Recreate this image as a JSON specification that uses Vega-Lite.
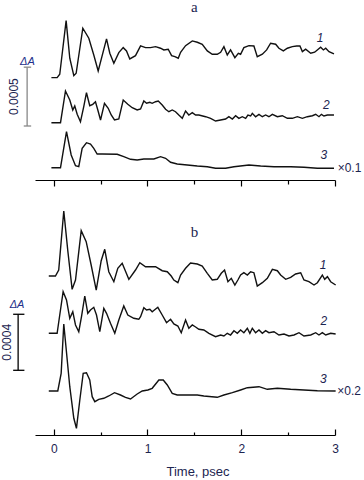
{
  "$schema": "https://vega.github.io/schema/vega-lite/v6.json",
  "padding": {"left": 0, "top": 0, "right": 0, "bottom": 0},
  "config": {"view": {"stroke": null}, "font": "Liberation Sans"},
  "spacing": 10,
  "bounds": "flush",
  "datasets": {
    "a1": [{"t":-0.025,"dA":0},{"t":0.036,"dA":0},{"t":0.064,"dA":0.0000289},{"t":0.132,"dA":0.0004845},{"t":0.171,"dA":0.0001649},{"t":0.214,"dA":0.000017},{"t":0.239,"dA":0.0000374},{"t":0.310,"dA":0.0004199},{"t":0.374,"dA":0.0003349},{"t":0.427,"dA":0.000193},{"t":0.474,"dA":0.000057},{"t":0.563,"dA":0.000329},{"t":0.598,"dA":0.0002074},{"t":0.641,"dA":0.0001224},{"t":0.694,"dA":0.0002125},{"t":0.741,"dA":0.000255},{"t":0.776,"dA":0.000227},{"t":0.811,"dA":0.000159},{"t":0.872,"dA":0.000187},{"t":0.926,"dA":0.0002695},{"t":0.979,"dA":0.000255},{"t":1.032,"dA":0.000255},{"t":1.086,"dA":0.0002635},{"t":1.139,"dA":0.00025},{"t":1.174,"dA":0.0002355},{"t":1.221,"dA":0.0002414},{"t":1.257,"dA":0.000187},{"t":1.292,"dA":0.0001785},{"t":1.328,"dA":0.000165},{"t":1.353,"dA":0.000216},{"t":1.406,"dA":0.000272},{"t":1.478,"dA":0.000312},{"t":1.531,"dA":0.000301},{"t":1.584,"dA":0.000284},{"t":1.638,"dA":0.000227},{"t":1.691,"dA":0.000199},{"t":1.744,"dA":0.000199},{"t":1.780,"dA":0.000216},{"t":1.815,"dA":0.0002635},{"t":1.851,"dA":0.000193},{"t":1.886,"dA":0.0002355},{"t":1.932,"dA":0.00017},{"t":1.969,"dA":0.0002074},{"t":1.993,"dA":0.000199},{"t":2.028,"dA":0.000255},{"t":2.082,"dA":0.000272},{"t":2.135,"dA":0.0002695},{"t":2.171,"dA":0.0001785},{"t":2.225,"dA":0.000199},{"t":2.271,"dA":0.0002355},{"t":2.313,"dA":0.0002924},{"t":2.367,"dA":0.000284},{"t":2.402,"dA":0.00025},{"t":2.449,"dA":0.000227},{"t":2.492,"dA":0.00025},{"t":2.545,"dA":0.0002635},{"t":2.591,"dA":0.0002695},{"t":2.626,"dA":0.0002695},{"t":2.652,"dA":0.000221},{"t":2.687,"dA":0.0002414},{"t":2.741,"dA":0.0002074},{"t":2.783,"dA":0.000216},{"t":2.847,"dA":0.0002584},{"t":2.876,"dA":0.0002355},{"t":2.901,"dA":0.00025},{"t":2.936,"dA":0.000221},{"t":2.989,"dA":0.0002015}],
    "a2": [{"t":-0.025,"dA":0},{"t":0.072,"dA":0},{"t":0.125,"dA":0.0002695},{"t":0.171,"dA":0.000193},{"t":0.203,"dA":0.000108},{"t":0.224,"dA":0.000142},{"t":0.250,"dA":0.0000714},{"t":0.285,"dA":0.0000085},{"t":0.320,"dA":0.000136},{"t":0.349,"dA":0.000255},{"t":0.384,"dA":0.0001445},{"t":0.416,"dA":0.0001564},{"t":0.445,"dA":0.0001785},{"t":0.470,"dA":0.000108},{"t":0.499,"dA":0.000023},{"t":0.541,"dA":0.000165},{"t":0.581,"dA":0.0001224},{"t":0.613,"dA":0.0000655},{"t":0.648,"dA":0.000023},{"t":0.694,"dA":0.0000315},{"t":0.741,"dA":0.000193},{"t":0.790,"dA":0.0001564},{"t":0.837,"dA":0.0001275},{"t":0.890,"dA":0.000108},{"t":0.926,"dA":0.0001165},{"t":0.961,"dA":0.0001845},{"t":0.990,"dA":0.000165},{"t":1.025,"dA":0.0001734},{"t":1.050,"dA":0.000165},{"t":1.086,"dA":0.0001785},{"t":1.115,"dA":0.0001845},{"t":1.157,"dA":0.0001505},{"t":1.193,"dA":0.000114},{"t":1.228,"dA":0.0000935},{"t":1.264,"dA":0.000108},{"t":1.299,"dA":0.0000935},{"t":1.334,"dA":0.0000655},{"t":1.371,"dA":0.0000374},{"t":1.406,"dA":0.0000995},{"t":1.441,"dA":0.0000655},{"t":1.478,"dA":0.000085},{"t":1.513,"dA":0.0000655},{"t":1.548,"dA":0.0000655},{"t":1.620,"dA":0.000051},{"t":1.673,"dA":0.0000374},{"t":1.726,"dA":0.0000145},{"t":1.780,"dA":0.000023},{"t":1.833,"dA":0.0000315},{"t":1.868,"dA":0.000051},{"t":1.905,"dA":0.0000315},{"t":1.940,"dA":0.0000595},{"t":1.975,"dA":0.0000374},{"t":2.011,"dA":0.000051},{"t":2.047,"dA":0.0000374},{"t":2.071,"dA":0.0000655},{"t":2.100,"dA":0.000057},{"t":2.118,"dA":0.00008},{"t":2.153,"dA":0.000051},{"t":2.189,"dA":0.0000714},{"t":2.225,"dA":0.000051},{"t":2.260,"dA":0.0000655},{"t":2.295,"dA":0.000051},{"t":2.332,"dA":0.0000714},{"t":2.385,"dA":0.000051},{"t":2.438,"dA":0.0000595},{"t":2.492,"dA":0.0000374},{"t":2.545,"dA":0.0000374},{"t":2.599,"dA":0.000051},{"t":2.652,"dA":0.0000374},{"t":2.705,"dA":0.000051},{"t":2.759,"dA":0.0000595},{"t":2.794,"dA":0.0000714},{"t":2.829,"dA":0.000051},{"t":2.855,"dA":0.0000714},{"t":2.882,"dA":0.000057},{"t":2.919,"dA":0.0000655},{"t":2.989,"dA":0.0000655}],
    "a3": [{"t":-0.025,"dA":0},{"t":0.072,"dA":0},{"t":0.136,"dA":0.00306},{"t":0.186,"dA":0.00108},{"t":0.232,"dA":0.00017},{"t":0.267,"dA":0.000085},{"t":0.303,"dA":0.001649},{"t":0.349,"dA":0.002125},{"t":0.392,"dA":0.0020145},{"t":0.427,"dA":0.001649},{"t":0.463,"dA":0.0011645},{"t":0.517,"dA":0.0011645},{"t":0.677,"dA":0.001139},{"t":0.747,"dA":0.000935},{"t":0.819,"dA":0.000714},{"t":0.890,"dA":0.0006545},{"t":0.961,"dA":0.0007395},{"t":1.068,"dA":0.0007395},{"t":1.139,"dA":0.000935},{"t":1.193,"dA":0.000799},{"t":1.246,"dA":0.000459},{"t":1.317,"dA":0.0003145},{"t":1.424,"dA":0.0002295},{"t":1.531,"dA":0.0001445},{"t":1.638,"dA":0.000085},{"t":1.726,"dA":-0.000051},{"t":1.833,"dA":-0.000051},{"t":1.922,"dA":0.000085},{"t":2.082,"dA":0.0002295},{"t":2.207,"dA":0.0001445},{"t":2.349,"dA":0.000085},{"t":2.527,"dA":0.000085},{"t":2.669,"dA":0.000034},{"t":2.812,"dA":-0.000051},{"t":2.989,"dA":-0.000051}],
    "b1": [{"t":-0.053,"dA":0},{"t":0.018,"dA":0},{"t":0.053,"dA":0.0000428},{"t":0.107,"dA":0.0004641},{"t":0.149,"dA":0.0001856},{"t":0.196,"dA":-0.000095},{"t":0.232,"dA":-0.0000286},{"t":0.293,"dA":0.0003234},{"t":0.346,"dA":0.0002449},{"t":0.399,"dA":0.0000785},{"t":0.453,"dA":-0.0001},{"t":0.506,"dA":0.0001092},{"t":0.544,"dA":0.0001906},{"t":0.587,"dA":0.0000307},{"t":0.641,"dA":-0.0000407},{"t":0.683,"dA":0.000055},{"t":0.730,"dA":0.0000907},{"t":0.801,"dA":-0.0000236},{"t":0.872,"dA":0.0000428},{"t":0.918,"dA":0.000095},{"t":0.979,"dA":0.0000664},{"t":1.086,"dA":0.0000664},{"t":1.157,"dA":0.0000378},{"t":1.211,"dA":0.0000307},{"t":1.253,"dA":0},{"t":1.281,"dA":-0.0000286},{"t":1.324,"dA":-0.0000478},{"t":1.353,"dA":0.0000071},{"t":1.406,"dA":0.000055},{"t":1.459,"dA":0.0000928},{"t":1.531,"dA":0.0000857},{"t":1.584,"dA":0.0000714},{"t":1.638,"dA":0.0000193},{"t":1.691,"dA":-0.0000286},{"t":1.744,"dA":-0.0000236},{"t":1.787,"dA":0.0000193},{"t":1.822,"dA":0.0000428},{"t":1.858,"dA":-0.0000407},{"t":1.894,"dA":-0.0000164},{"t":1.932,"dA":-0.0000643},{"t":1.964,"dA":-0.0000286},{"t":1.993,"dA":0.0000071},{"t":2.028,"dA":0.0000236},{"t":2.065,"dA":0.0000071},{"t":2.100,"dA":0.0000307},{"t":2.135,"dA":0.0000236},{"t":2.171,"dA":-0.0000714},{"t":2.225,"dA":-0.0000478},{"t":2.278,"dA":-0.0000164},{"t":2.332,"dA":0.0000478},{"t":2.385,"dA":0.0000378},{"t":2.420,"dA":0.0000071},{"t":2.474,"dA":-0.0000236},{"t":2.527,"dA":-0.0000093},{"t":2.580,"dA":0.0000143},{"t":2.634,"dA":0.0000236},{"t":2.669,"dA":-0.0000286},{"t":2.722,"dA":-0.0000407},{"t":2.776,"dA":-0.0000643},{"t":2.812,"dA":-0.0000478},{"t":2.865,"dA":0.0000071},{"t":2.890,"dA":-0.0000236},{"t":2.919,"dA":-0.000005},{"t":2.954,"dA":-0.0000407},{"t":3.007,"dA":-0.0000643}],
    "b2": [{"t":-0.053,"dA":0},{"t":0.036,"dA":0},{"t":0.064,"dA":0.0001307},{"t":0.100,"dA":0.000297},{"t":0.136,"dA":0.0002378},{"t":0.171,"dA":0.0001071},{"t":0.203,"dA":0.0001542},{"t":0.232,"dA":0.0000593},{"t":0.267,"dA":0.0000114},{"t":0.296,"dA":0.0001185},{"t":0.331,"dA":0.0002663},{"t":0.363,"dA":0.0001428},{"t":0.392,"dA":0.0001664},{"t":0.427,"dA":0.0001856},{"t":0.456,"dA":0.0001307},{"t":0.491,"dA":0.0000114},{"t":0.534,"dA":0.0001785},{"t":0.563,"dA":0.0001428},{"t":0.605,"dA":0.0000714},{"t":0.651,"dA":0},{"t":0.694,"dA":0.000095},{"t":0.747,"dA":0.0001949},{"t":0.790,"dA":0.0001307},{"t":0.854,"dA":0.0001071},{"t":0.907,"dA":0.0001},{"t":0.926,"dA":0.0001185},{"t":0.961,"dA":0.0001828},{"t":0.990,"dA":0.0001664},{"t":1.025,"dA":0.0001714},{"t":1.050,"dA":0.0001542},{"t":1.110,"dA":0.0001856},{"t":1.157,"dA":0.0001307},{"t":1.203,"dA":0.0000757},{"t":1.246,"dA":0.0001},{"t":1.281,"dA":0.0000664},{"t":1.324,"dA":0.0000521},{"t":1.360,"dA":0.0000043},{"t":1.406,"dA":0.000095},{"t":1.441,"dA":0.0000357},{"t":1.478,"dA":0.0000593},{"t":1.513,"dA":0.000045},{"t":1.548,"dA":0.0000286},{"t":1.601,"dA":0.0000236},{"t":1.655,"dA":0},{"t":1.726,"dA":-0.0000243},{"t":1.780,"dA":-0.0000121},{"t":1.815,"dA":-0.0000193},{"t":1.851,"dA":0},{"t":1.886,"dA":-0.0000121},{"t":1.922,"dA":0.0000186},{"t":1.958,"dA":0},{"t":1.993,"dA":0.0000236},{"t":2.028,"dA":0.0000043},{"t":2.065,"dA":0.0000357},{"t":2.092,"dA":0},{"t":2.118,"dA":0.0000357},{"t":2.153,"dA":0.0000043},{"t":2.189,"dA":0.0000236},{"t":2.225,"dA":0},{"t":2.260,"dA":0.0000186},{"t":2.295,"dA":0.0000043},{"t":2.349,"dA":0.0000114},{"t":2.402,"dA":-0.0000121},{"t":2.456,"dA":-0.000005},{"t":2.509,"dA":-0.0000193},{"t":2.563,"dA":-0.0000121},{"t":2.616,"dA":0.0000043},{"t":2.669,"dA":-0.0000193},{"t":2.741,"dA":-0.0000121},{"t":2.794,"dA":0.0000043},{"t":2.829,"dA":-0.0000121},{"t":2.865,"dA":0.0000043},{"t":2.901,"dA":-0.0000121},{"t":2.954,"dA":0},{"t":3.007,"dA":-0.000005}],
    "b3": [{"t":-0.053,"dA":0},{"t":0.043,"dA":0},{"t":0.079,"dA":0.0006319},{"t":0.107,"dA":0.00239},{"t":0.171,"dA":0.0001535},{"t":0.214,"dA":-0.0009746},{"t":0.242,"dA":-0.0013316},{"t":0.278,"dA":-0.0003213},{"t":0.314,"dA":0.0006319},{"t":0.349,"dA":0.0006533},{"t":0.384,"dA":0.0003927},{"t":0.410,"dA":-0.0002035},{"t":0.438,"dA":-0.000382},{"t":0.480,"dA":-0.0002963},{"t":0.534,"dA":-0.0002606},{"t":0.587,"dA":-0.0001785},{"t":0.648,"dA":-0.0000607},{"t":0.712,"dA":-0.0001428},{"t":0.765,"dA":-0.0002249},{"t":0.819,"dA":-0.0002856},{"t":0.890,"dA":-0.0001071},{"t":0.944,"dA":0},{"t":1.004,"dA":0.0000357},{"t":1.050,"dA":0.0000964},{"t":1.121,"dA":0.0003927},{"t":1.168,"dA":0.0003927},{"t":1.211,"dA":0.0002142},{"t":1.264,"dA":-0.0000821},{"t":1.317,"dA":-0.0001428},{"t":1.424,"dA":-0.0001428},{"t":1.531,"dA":-0.0001428},{"t":1.601,"dA":-0.0001785},{"t":1.744,"dA":-0.0002249},{"t":1.815,"dA":-0.0001428},{"t":1.905,"dA":-0.0000607},{"t":1.993,"dA":0.0000357},{"t":2.065,"dA":0.0001178},{"t":2.189,"dA":0.0001535},{"t":2.278,"dA":0.0000607},{"t":2.385,"dA":0.0000964},{"t":2.527,"dA":0.0000607},{"t":2.669,"dA":0.0000357},{"t":2.812,"dA":0.0000107},{"t":3.007,"dA":0}]
  },
  "vconcat": [
    {
      "width": 300,
      "height": 180,
      "encoding": {
        "x": {
          "field": "t", "type": "quantitative",
          "scale": {"domain": [-0.2, 3], "nice": false, "zero": false},
          "axis": {
            "values": [0, 0.5, 1, 1.5, 2, 2.5, 3],
            "labels": false, "title": null, "grid": false,
            "domainColor": "#000", "domainWidth": 1.2,
            "tickColor": "#000", "tickWidth": 1.2,
            "tickSize": {"condition": {"test": "datum.value % 1 === 0", "value": 6}, "value": 4}
          }
        }
      },
      "layer": [
        {
          "layer": [
            {"data": {"name": "a1"}, "mark": {"type": "line", "stroke": "#111", "strokeWidth": 1.4}},
            {"data": {"values": [{"t": 2.84, "dA": 0.00034, "label": "1"}]},
             "mark": {"type": "text", "font": "Liberation Sans", "fontSize": 12, "fontStyle": "italic", "fill": "#1c2450", "align": "center", "baseline": "middle"},
             "encoding": {"text": {"field": "label"}}}
          ],
          "encoding": {"y": {"field": "dA", "type": "quantitative", "scale": {"domain": [-0.00087, 0.00066], "nice": false, "zero": false}, "axis": null}}
        },
        {
          "layer": [
            {"data": {"name": "a2"}, "mark": {"type": "line", "stroke": "#111", "strokeWidth": 1.4}},
            {"data": {"values": [{"t": 2.908, "dA": 0.00015, "label": "2"}]},
             "mark": {"type": "text", "font": "Liberation Sans", "fontSize": 12, "fontStyle": "italic", "fill": "#1c2450", "align": "center", "baseline": "middle"},
             "encoding": {"text": {"field": "label"}}}
          ],
          "encoding": {"y": {"field": "dA", "type": "quantitative", "scale": {"domain": [-0.000487, 0.001043], "nice": false, "zero": false}, "axis": null}}
        },
        {
          "layer": [
            {"data": {"name": "a3"}, "mark": {"type": "line", "stroke": "#111", "strokeWidth": 1.4}},
            {"data": {"values": [{"t": 2.882, "dA": 0.00108, "label": "3"}]},
             "mark": {"type": "text", "font": "Liberation Sans", "fontSize": 12, "fontStyle": "italic", "fill": "#1c2450", "align": "center", "baseline": "middle"},
             "encoding": {"text": {"field": "label"}}},
            {"data": {"values": [{"t": 3.028, "dA": 0, "label": "×0.1"}]},
             "mark": {"type": "text", "font": "Liberation Sans", "fontSize": 12, "fill": "#1c2450", "align": "left", "baseline": "middle"},
             "encoding": {"text": {"field": "label"}}}
          ],
          "encoding": {"y": {"field": "dA", "type": "quantitative", "scale": {"domain": [-0.0010455, 0.0142545], "nice": false, "zero": false}, "axis": null}}
        },
        {
          "layer": [
            {"data": {"values": [{"t": -0.284, "dA": 0, "dA2": 0.0005}]},
             "mark": {"type": "rule", "stroke": "#888", "strokeWidth": 1.3},
             "encoding": {"y2": {"field": "dA2"}}},
            {"data": {"values": [{"t": -0.32, "t2": -0.241, "dA": 0}, {"t": -0.32, "t2": -0.241, "dA": 0.0005}]},
             "mark": {"type": "rule", "stroke": "#888", "strokeWidth": 1.3},
             "encoding": {"x2": {"field": "t2"}}},
            {"data": {"values": [{"t": -0.281, "dA": 0.000544, "label": "ΔA"}]},
             "mark": {"type": "text", "font": "Liberation Sans", "fontSize": 11, "fontStyle": "italic", "fill": "#24308a", "align": "center", "baseline": "middle"},
             "encoding": {"text": {"field": "label"}}},
            {"data": {"values": [{"t": -0.427, "dA": 0.00025, "label": "0.0005"}]},
             "mark": {"type": "text", "font": "Liberation Sans", "fontSize": 12, "angle": 270, "fill": "#1c2450", "align": "center", "baseline": "middle"},
             "encoding": {"text": {"field": "label"}}},
            {"data": {"values": [{"t": 1.5, "dA": 0.00107, "label": "a"}]},
             "mark": {"type": "text", "font": "Liberation Serif", "fontSize": 15, "fill": "#1c2450", "align": "center", "baseline": "top"},
             "encoding": {"text": {"field": "label"}}}
          ],
          "encoding": {"y": {"field": "dA", "type": "quantitative", "scale": {"domain": [-0.000459, 0.001071], "nice": false, "zero": false}, "axis": null}}
        }
      ],
      "resolve": {"scale": {"y": "independent"}}
    },
    {
      "width": 300,
      "height": 245,
      "encoding": {
        "x": {
          "field": "t", "type": "quantitative",
          "scale": {"domain": [-0.2, 3], "nice": false, "zero": false},
          "axis": {
            "values": [0, 0.5, 1, 1.5, 2, 2.5, 3],
            "labelExpr": "datum.value % 1 === 0 ? format(datum.value, 'd') : ''",
            "labelFont": "Liberation Sans", "labelFontSize": 12, "labelColor": "#1c2450",
            "labelPadding": 14, "labelFlush": false, "labelOverlap": false,
            "title": "Time, psec", "titleFont": "Liberation Sans", "titleFontSize": 13,
            "titleFontWeight": "normal", "titleColor": "#1c2450", "titlePadding": 8, "titleX": 162.5,
            "grid": false,
            "domainColor": "#000", "domainWidth": 1.2,
            "tickColor": "#000", "tickWidth": 1.2,
            "tickSize": {"condition": {"test": "datum.value % 1 === 0", "value": -6}, "value": -3}
          }
        }
      },
      "layer": [
        {
          "layer": [
            {"data": {"name": "b1"}, "mark": {"type": "line", "stroke": "#111", "strokeWidth": 1.4}},
            {"data": {"values": [{"t": 2.872, "dA": 0.0000785, "label": "1"}]},
             "mark": {"type": "text", "font": "Liberation Sans", "fontSize": 12, "fontStyle": "italic", "fill": "#1c2450", "align": "center", "baseline": "middle"},
             "encoding": {"text": {"field": "label"}}}
          ],
          "encoding": {"y": {"field": "dA", "type": "quantitative", "scale": {"domain": [-0.001135, 0.000614], "nice": false, "zero": false}, "axis": null}}
        },
        {
          "layer": [
            {"data": {"name": "b2"}, "mark": {"type": "line", "stroke": "#111", "strokeWidth": 1.4}},
            {"data": {"values": [{"t": 2.882, "dA": 0.0000878, "label": "2"}]},
             "mark": {"type": "text", "font": "Liberation Sans", "fontSize": 12, "fontStyle": "italic", "fill": "#1c2450", "align": "center", "baseline": "middle"},
             "encoding": {"text": {"field": "label"}}}
          ],
          "encoding": {"y": {"field": "dA", "type": "quantitative", "scale": {"domain": [-0.000726, 0.001023], "nice": false, "zero": false}, "axis": null}}
        },
        {
          "layer": [
            {"data": {"name": "b3"}, "mark": {"type": "line", "stroke": "#111", "strokeWidth": 1.4}},
            {"data": {"values": [{"t": 2.876, "dA": 0.000418, "label": "3"}]},
             "mark": {"type": "text", "font": "Liberation Sans", "fontSize": 12, "fontStyle": "italic", "fill": "#1c2450", "align": "center", "baseline": "middle"},
             "encoding": {"text": {"field": "label"}}},
            {"data": {"values": [{"t": 3.025, "dA": 0, "label": "×0.2"}]},
             "mark": {"type": "text", "font": "Liberation Sans", "fontSize": 12, "fill": "#1c2450", "align": "left", "baseline": "middle"},
             "encoding": {"text": {"field": "label"}}}
          ],
          "encoding": {"y": {"field": "dA", "type": "quantitative", "scale": {"domain": [-0.0015708, 0.0071757], "nice": false, "zero": false}, "axis": null}}
        },
        {
          "layer": [
            {"data": {"values": [{"t": -0.38, "dA": 0, "dA2": 0.0004}]},
             "mark": {"type": "rule", "stroke": "#000", "strokeWidth": 1.3},
             "encoding": {"y2": {"field": "dA2"}}},
            {"data": {"values": [{"t": -0.433, "t2": -0.313, "dA": 0}, {"t": -0.433, "t2": -0.313, "dA": 0.0004}]},
             "mark": {"type": "rule", "stroke": "#000", "strokeWidth": 1.3},
             "encoding": {"x2": {"field": "t2"}}},
            {"data": {"values": [{"t": -0.391, "dA": 0.000463, "label": "ΔA"}]},
             "mark": {"type": "text", "font": "Liberation Sans", "fontSize": 11, "fontStyle": "italic", "fill": "#24308a", "align": "center", "baseline": "middle"},
             "encoding": {"text": {"field": "label"}}},
            {"data": {"values": [{"t": -0.502, "dA": 0.0002, "label": "0.0004"}]},
             "mark": {"type": "text", "font": "Liberation Sans", "fontSize": 12, "angle": 270, "fill": "#1c2450", "align": "center", "baseline": "middle"},
             "encoding": {"text": {"field": "label"}}},
            {"data": {"values": [{"t": 1.5, "dA": 0.00099, "label": "b"}]},
             "mark": {"type": "text", "font": "Liberation Serif", "fontSize": 15, "fill": "#1c2450", "align": "center", "baseline": "middle"},
             "encoding": {"text": {"field": "label"}}}
          ],
          "encoding": {"y": {"field": "dA", "type": "quantitative", "scale": {"domain": [-0.00046196, 0.00128734], "nice": false, "zero": false}, "axis": null}}
        }
      ],
      "resolve": {"scale": {"y": "independent"}}
    }
  ]
}
